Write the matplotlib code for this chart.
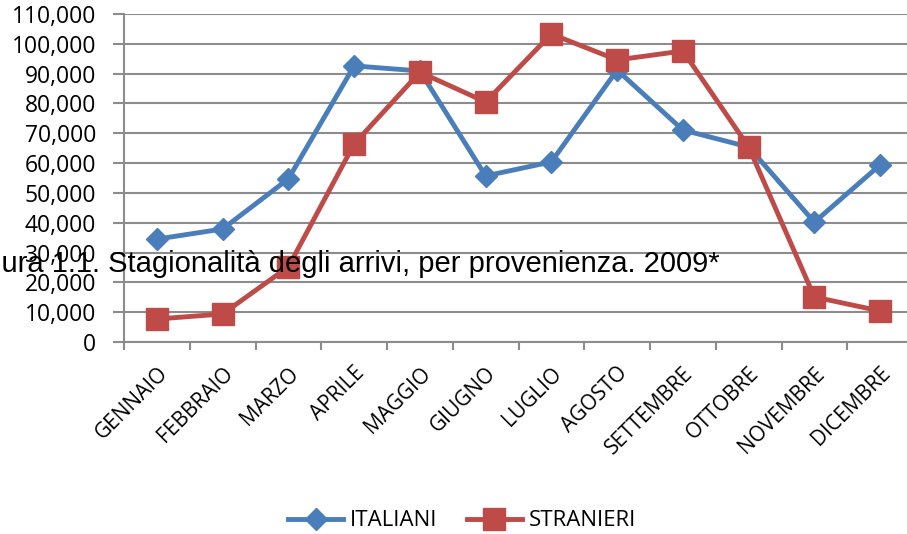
import matplotlib
matplotlib.use("Agg")
import matplotlib.pyplot as plt
from matplotlib.ticker import FuncFormatter, FixedLocator

mesi = ["GENNAIO", "FEBBRAIO", "MARZO", "APRILE", "MAGGIO", "GIUGNO",
        "LUGLIO", "AGOSTO", "SETTEMBRE", "OTTOBRE", "NOVEMBRE", "DICEMBRE"]
italiani = [34500, 37900, 54700, 92600, 90900, 55700,
            60400, 91200, 71100, 65400, 40200, 59400]
stranieri = [7700, 9400, 25200, 66400, 90500, 80500,
             103300, 94600, 97600, 65400, 15100, 10400]

blu = "#4A7EBB"
rosso = "#BE4B48"
grigio = "#8C8C8C"

plt.rcParams['font.family'] = ['Open Sans', 'DejaVu Sans']

fig = plt.figure(figsize=(9.07, 5.34), dpi=100)
# plot area runs past the right edge of the image, as in the reference
ax = fig.add_axes([124/907, 1-342/534, 789/907, 328/534])

x = list(range(1, len(mesi) + 1))
ax.plot(x, italiani, color=blu, lw=3.5, marker="D", ms=11, label="ITALIANI", zorder=3)
ax.plot(x, stranieri, color=rosso, lw=3.5, marker="s", ms=15.5, label="STRANIERI", zorder=4)

ax.set_xlim(0.5, len(mesi) + 0.5)
ax.set_ylim(0, 110000)
ax.set_yticks(range(0, 110001, 10000))
ax.yaxis.set_major_formatter(FuncFormatter(lambda v, p: f"{int(v):,}"))
ax.grid(axis="y", color=grigio, lw=1.5)
ax.set_axisbelow(True)

# ticks between categories, labels at category centers
ax.xaxis.set_major_locator(FixedLocator([i + 0.5 for i in range(0, len(mesi) + 1)]))
ax.xaxis.set_ticklabels([])
ax.xaxis.set_minor_locator(FixedLocator(x))
ax.set_xticklabels(mesi, minor=True, rotation=45, ha="right", rotation_mode="anchor", fontsize=15)
ax.tick_params(axis="x", which="minor", length=0, pad=15)
ax.tick_params(axis="x", which="major", length=6, width=1.5, color=grigio, direction="out")
ax.tick_params(axis="y", length=8, width=1.5, color=grigio, labelsize=16.5, pad=12)

for s in ["top", "right"]:
    ax.spines[s].set_visible(False)
for s in ["left", "bottom"]:
    ax.spines[s].set_color(grigio)
    ax.spines[s].set_linewidth(1.5)

fig.text(720/907, 1-264/534, "Figura 1.1. Stagionalità degli arrivi, per provenienza. 2009*",
         ha="right", va="center", fontsize=21, family=["Liberation Sans", "DejaVu Sans"])

fig.legend(loc="center", bbox_to_anchor=(462/907, 1-521/534), ncol=2, frameon=False,
           fontsize=16, handlelength=2.5, columnspacing=1.3, handletextpad=0.3)

fig.savefig("out.png", dpi=100)
